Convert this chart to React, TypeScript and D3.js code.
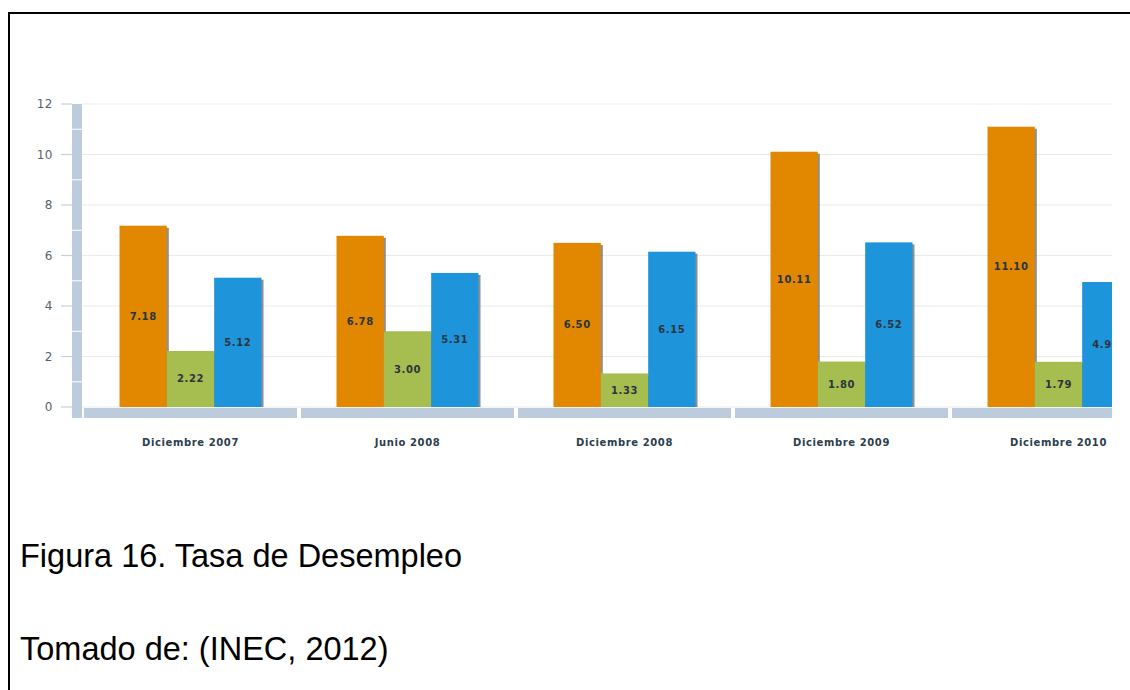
import React from "react";
import * as d3 from "d3";

const categories = ["Diciembre 2007", "Junio 2008", "Diciembre 2008", "Diciembre 2009", "Diciembre 2010"];
const seriesNames = ["s1", "s2", "s3"];
const orangeValues = [7.18, 6.78, 6.5, 10.11, 11.1];
const greenValues = [2.22, 3.0, 1.33, 1.8, 1.79];
const blueValues = [5.12, 5.31, 6.15, 6.52, 4.95];
const yTicks = [0, 2, 4, 6, 8, 10, 12];
const ySeparators = [1, 3, 5, 7, 9, 11];
const seriesColors = ["#E28800", "#A6BD4F", "#1E95DA"];
const caption = "Figura 16. Tasa de Desempleo";
const source = "Tomado de: (INEC, 2012)";

export default function App() {
  const W = 1130, H = 690;
  const y = d3.scaleLinear().domain([0, 12]).range([407, 104]);
  const x = d3.scaleBand().domain(categories).range([82, 1167]).paddingInner(0).paddingOuter(0);
  const groupW = 142;
  const xs = d3.scaleBand().domain(seriesNames).range([0, groupW]);
  const allSeries = [orangeValues, greenValues, blueValues];
  const fmt = d3.format(".2f");
  const font = "'DejaVu Sans', Verdana, sans-serif";
  const plotRight = 1112;

  const bars: { cx: number; w: number; y0: number; y1: number; color: string; v: number }[] = [];
  categories.forEach((c, ci) => {
    const gx = (x(c) as number) + x.bandwidth() / 2 - groupW / 2;
    allSeries.forEach((vals, si) => {
      const bx = gx + (xs(seriesNames[si]) as number);
      bars.push({ cx: bx, w: xs.bandwidth(), y0: y(vals[ci]), y1: y(0), color: seriesColors[si], v: vals[ci] });
    });
  });

  return (
    <svg width={W} height={H} style={{ position: "absolute", left: 0, top: 0, background: "#fff" }}>
      <defs>
        <clipPath id="plotClip">
          <rect x={0} y={0} width={plotRight} height={H} />
        </clipPath>
      </defs>
      {/* frame */}
      <line x1={9} y1={13} x2={W} y2={13} stroke="#000" strokeWidth={2} />
      <line x1={9} y1={12} x2={9} y2={H} stroke="#000" strokeWidth={2} />

      {/* gridlines */}
      {yTicks.map((t) => (
        <line key={"g" + t} x1={82} x2={plotRight} y1={y(t)} y2={y(t)} stroke="#ebebeb" strokeWidth={1} />
      ))}
      {/* tick marks and labels */}
      {yTicks.map((t) => (
        <g key={"t" + t}>
          <line x1={61} x2={72} y1={y(t)} y2={y(t)} stroke="#c3d1df" strokeWidth={1.2} />
          <text x={53} y={y(t)} dy="0.35em" textAnchor="end" fontFamily={font} fontSize={12} fill="#56626e" letterSpacing={0.5}>
            {t}
          </text>
        </g>
      ))}
      {/* vertical axis bar */}
      <rect x={72} y={104} width={10} height={314} fill="#BCCCDC" />
      {ySeparators.map((s) => (
        <line key={"s" + s} x1={72} x2={82} y1={y(s)} y2={y(s)} stroke="#fff" strokeWidth={1} />
      ))}
      {/* horizontal axis bar segments */}
      <g clipPath="url(#plotClip)">
        {categories.map((c) => {
          const x0 = (x(c) as number) + 2;
          const x1 = (x(c) as number) + x.bandwidth() - 2;
          return <rect key={"hb" + c} x={x0} y={408} width={x1 - x0} height={10} fill="#BCCCDC" />;
        })}
        {/* shadows */}
        {bars.map((b, i) => (
          <rect key={"sh" + i} x={b.cx + 2} y={b.y0 + 2} width={b.w} height={b.y1 - b.y0 - 2} fill="#444" opacity={0.6} />
        ))}
        {bars.map((b, i) => (
          <rect key={"b" + i} x={b.cx} y={b.y0} width={b.w} height={b.y1 - b.y0} fill={b.color} />
        ))}
        {bars.map((b, i) => (
          <text
            key={"l" + i}
            x={b.cx + b.w / 2}
            y={(b.y0 + b.y1) / 2}
            dy="0.35em"
            textAnchor="middle"
            fontFamily={font}
            fontSize={10}
            fontWeight="bold"
            fill="#2a3540"
            letterSpacing={0.6}
          >
            {fmt(b.v)}
          </text>
        ))}
        {categories.map((c) => (
          <text
            key={"c" + c}
            x={(x(c) as number) + x.bandwidth() / 2}
            y={442}
            dy="0.35em"
            textAnchor="middle"
            fontFamily={font}
            fontSize={10}
            fontWeight="bold"
            fill="#2c3e4c"
            letterSpacing={0.6}
          >
            {c}
          </text>
        ))}
      </g>

      <text x={20} y={567} fontFamily="'Liberation Sans', Arial, sans-serif" fontSize={32.5} fill="#000">
        {caption}
      </text>
      <text x={20} y={660} fontFamily="'Liberation Sans', Arial, sans-serif" fontSize={32.5} fill="#000">
        {source}
      </text>
    </svg>
  );
}
